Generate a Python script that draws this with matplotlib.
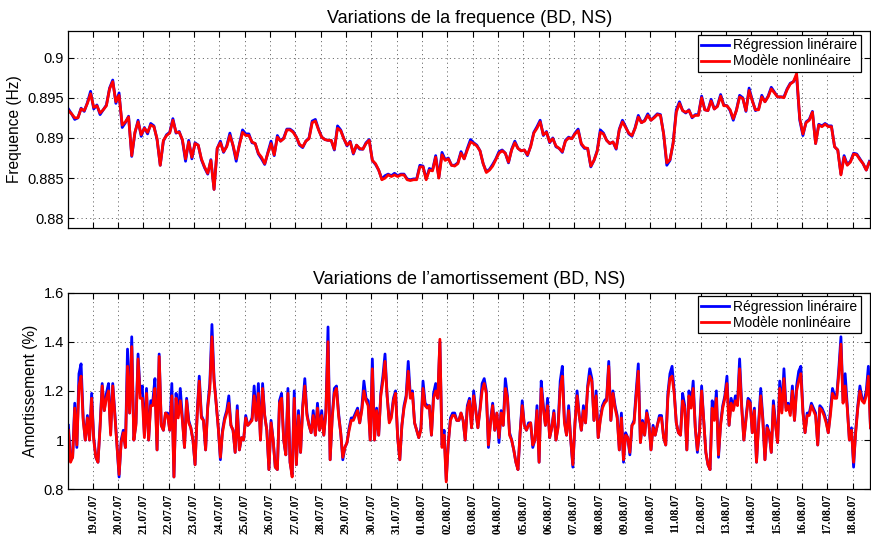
import pandas as pd
import matplotlib
matplotlib.use("Agg")
import matplotlib.pyplot as plt

plt.rcParams["font.family"] = ["Liberation Sans", "DejaVu Sans"]

# --- frequency (Hz), one value every 3 h from 18.07.2007 01:00 ---
FREQ_START, FREQ_STEP = "2007-07-18 01:00", "3h"
freq_lin = [
    0.8936, 0.8930, 0.8923, 0.8925, 0.8937, 0.8933, 0.8944, 0.8958,
    0.8936, 0.8941, 0.8929, 0.8935, 0.8941, 0.8962, 0.8972, 0.8943,
    0.8956, 0.8913, 0.8919, 0.8927, 0.8877, 0.8906, 0.8922, 0.8902,
    0.8913, 0.8905, 0.8918, 0.8915, 0.8898, 0.8866, 0.8896, 0.8904,
    0.8907, 0.8924, 0.8906, 0.8908, 0.8897, 0.8871, 0.8897, 0.8874,
    0.8894, 0.8891, 0.8873, 0.8863, 0.8855, 0.8873, 0.8836, 0.8887,
    0.8896, 0.8882, 0.8890, 0.8906, 0.8890, 0.8871, 0.8892, 0.8910,
    0.8905, 0.8905, 0.8894, 0.8893, 0.8880, 0.8874, 0.8867, 0.8882,
    0.8896, 0.8878, 0.8903, 0.8896, 0.8900, 0.8911, 0.8911, 0.8908,
    0.8901, 0.8891, 0.8888, 0.8896, 0.8900, 0.8921, 0.8923, 0.8911,
    0.8901, 0.8898, 0.8897, 0.8897, 0.8885, 0.8915, 0.8910, 0.8899,
    0.8890, 0.8896, 0.8880, 0.8891, 0.8886, 0.8886, 0.8894, 0.8898,
    0.8872, 0.8867, 0.8860, 0.8849, 0.8853, 0.8855, 0.8853, 0.8856,
    0.8853, 0.8855, 0.8855, 0.8849, 0.8848, 0.8849, 0.8849, 0.8866,
    0.8865, 0.8849, 0.8862, 0.8860, 0.8878, 0.8851, 0.8882, 0.8873,
    0.8875, 0.8866, 0.8866, 0.8869, 0.8883, 0.8874, 0.8887, 0.8898,
    0.8894, 0.8891, 0.8884, 0.8868, 0.8858, 0.8861, 0.8867, 0.8874,
    0.8883, 0.8885, 0.8881, 0.8869, 0.8886, 0.8896, 0.8887, 0.8884,
    0.8885, 0.8878, 0.8890, 0.8907, 0.8914, 0.8922, 0.8903, 0.8908,
    0.8894, 0.8900, 0.8889, 0.8887, 0.8882, 0.8897, 0.8901, 0.8899,
    0.8906, 0.8911, 0.8892, 0.8887, 0.8887, 0.8864, 0.8872, 0.8884,
    0.8910, 0.8906, 0.8897, 0.8893, 0.8895, 0.8886, 0.8911, 0.8922,
    0.8914, 0.8905, 0.8902, 0.8913, 0.8928, 0.8919, 0.8922, 0.8930,
    0.8922, 0.8926, 0.8930, 0.8929, 0.8905, 0.8866, 0.8872, 0.8894,
    0.8935, 0.8945, 0.8934, 0.8931, 0.8935, 0.8925, 0.8929, 0.8929,
    0.8952, 0.8935, 0.8934, 0.8948, 0.8936, 0.8940, 0.8954, 0.8941,
    0.8940, 0.8934, 0.8922, 0.8935, 0.8953, 0.8950, 0.8933, 0.8962,
    0.8947, 0.8934, 0.8936, 0.8953, 0.8945, 0.8952, 0.8963, 0.8957,
    0.8951, 0.8951, 0.8951, 0.8961, 0.8968, 0.8970, 0.8977, 0.8922,
    0.8903, 0.8920, 0.8923, 0.8933, 0.8893, 0.8917, 0.8915, 0.8918,
    0.8915, 0.8915, 0.8889, 0.8885, 0.8855, 0.8878, 0.8867, 0.8871,
    0.8881, 0.8880, 0.8874, 0.8868, 0.8860, 0.8871,
]
freq_nl = [
    0.8934, 0.8930, 0.8925, 0.8925, 0.8936, 0.8934, 0.8943, 0.8955,
    0.8938, 0.8940, 0.8931, 0.8935, 0.8940, 0.8961, 0.8970, 0.8945,
    0.8953, 0.8916, 0.8920, 0.8926, 0.8878, 0.8907, 0.8920, 0.8904,
    0.8912, 0.8907, 0.8916, 0.8914, 0.8899, 0.8866, 0.8897, 0.8903,
    0.8906, 0.8922, 0.8907, 0.8907, 0.8898, 0.8874, 0.8895, 0.8876,
    0.8893, 0.8891, 0.8874, 0.8864, 0.8856, 0.8872, 0.8836, 0.8887,
    0.8894, 0.8883, 0.8889, 0.8903, 0.8891, 0.8874, 0.8891, 0.8907,
    0.8903, 0.8903, 0.8895, 0.8893, 0.8881, 0.8876, 0.8868, 0.8881,
    0.8893, 0.8879, 0.8901, 0.8896, 0.8899, 0.8910, 0.8910, 0.8907,
    0.8901, 0.8892, 0.8889, 0.8896, 0.8899, 0.8919, 0.8921, 0.8910,
    0.8901, 0.8898, 0.8897, 0.8897, 0.8886, 0.8912, 0.8909, 0.8899,
    0.8891, 0.8895, 0.8881, 0.8891, 0.8887, 0.8886, 0.8893, 0.8897,
    0.8872, 0.8868, 0.8860, 0.8848, 0.8850, 0.8854, 0.8852, 0.8854,
    0.8852, 0.8854, 0.8854, 0.8848, 0.8847, 0.8848, 0.8848, 0.8864,
    0.8864, 0.8848, 0.8860, 0.8859, 0.8876, 0.8850, 0.8879, 0.8872,
    0.8874, 0.8866, 0.8865, 0.8868, 0.8881, 0.8874, 0.8885, 0.8895,
    0.8893, 0.8890, 0.8884, 0.8868, 0.8857, 0.8860, 0.8865, 0.8873,
    0.8881, 0.8884, 0.8881, 0.8870, 0.8885, 0.8894, 0.8887, 0.8884,
    0.8885, 0.8879, 0.8889, 0.8906, 0.8912, 0.8920, 0.8904, 0.8907,
    0.8895, 0.8899, 0.8890, 0.8887, 0.8883, 0.8896, 0.8900, 0.8899,
    0.8905, 0.8909, 0.8893, 0.8888, 0.8887, 0.8865, 0.8872, 0.8883,
    0.8907, 0.8905, 0.8897, 0.8893, 0.8895, 0.8887, 0.8910, 0.8920,
    0.8913, 0.8906, 0.8903, 0.8912, 0.8926, 0.8919, 0.8921, 0.8928,
    0.8922, 0.8925, 0.8929, 0.8928, 0.8905, 0.8869, 0.8873, 0.8893,
    0.8932, 0.8943, 0.8934, 0.8932, 0.8934, 0.8926, 0.8928, 0.8928,
    0.8950, 0.8935, 0.8934, 0.8946, 0.8936, 0.8939, 0.8952, 0.8940,
    0.8940, 0.8935, 0.8924, 0.8934, 0.8951, 0.8949, 0.8934, 0.8959,
    0.8946, 0.8935, 0.8935, 0.8951, 0.8945, 0.8951, 0.8961, 0.8956,
    0.8951, 0.8951, 0.8950, 0.8960, 0.8967, 0.8970, 0.8980, 0.8924,
    0.8905, 0.8919, 0.8922, 0.8932, 0.8893, 0.8916, 0.8914, 0.8917,
    0.8914, 0.8914, 0.8889, 0.8885, 0.8854, 0.8876, 0.8866, 0.8870,
    0.8880, 0.8879, 0.8873, 0.8868, 0.8860, 0.8870,
]

# --- damping (%), one value every 2 h from 18.07.2007 01:00 ---
DAMP_START, DAMP_STEP = "2007-07-18 01:00", "2h"
damp_lin = [
    1.06, 0.92, 0.93, 1.15, 0.97, 1.27, 1.31, 1.09, 1.00, 1.10, 1.00, 1.19,
    1.01, 0.93, 0.91, 1.06, 1.23, 1.12, 1.19, 1.23, 1.03, 1.23, 1.11, 0.98,
    0.85, 1.00, 1.04, 0.97, 1.37, 1.11, 1.42, 1.00, 1.07, 1.35, 1.19, 1.22,
    1.02, 1.21, 1.00, 1.16, 1.16, 1.25, 0.96, 1.35, 1.06, 1.04, 1.11, 1.11,
    1.04, 1.23, 0.85, 1.19, 1.10, 1.21, 1.09, 0.97, 1.17, 1.08, 1.05, 1.00,
    0.90, 1.11, 1.26, 1.10, 1.08, 0.96, 1.14, 1.23, 1.47, 1.25, 1.15, 1.05,
    0.92, 1.04, 1.09, 1.12, 1.18, 1.06, 1.04, 0.95, 1.14, 0.96, 1.01, 1.00,
    1.10, 1.06, 1.07, 1.09, 1.22, 1.08, 1.23, 1.00, 1.23, 1.10, 1.04, 0.88,
    1.08, 1.00, 0.89, 0.88, 1.16, 1.19, 1.00, 0.94, 1.21, 0.91, 0.86, 1.20,
    0.90, 1.12, 0.95, 1.14, 1.25, 1.11, 1.06, 1.03, 1.12, 1.02, 1.15, 1.04,
    1.12, 1.02, 1.12, 1.46, 0.92, 1.10, 1.21, 1.22, 1.11, 1.03, 0.92, 0.97,
    0.99, 1.05, 1.09, 1.09, 1.11, 1.13, 1.07, 1.13, 1.24, 1.17, 1.16, 1.00,
    1.33, 1.00, 1.13, 1.02, 1.19, 1.26, 1.35, 1.18, 1.08, 1.10, 1.17, 1.20,
    1.01, 0.92, 1.06, 1.14, 1.18, 1.32, 1.18, 1.20, 1.07, 1.04, 1.01, 1.05,
    1.24, 1.15, 1.14, 1.14, 1.02, 1.19, 1.23, 1.17, 1.40, 0.98, 1.04, 0.84,
    0.99, 1.09, 1.11, 1.11, 1.08, 1.08, 1.11, 1.08, 1.00, 1.14, 1.17, 1.05,
    1.20, 1.12, 1.05, 1.13, 1.23, 1.25, 1.20, 0.97, 1.08, 1.15, 1.04, 1.11,
    0.99, 1.12, 1.06, 1.25, 1.18, 1.03, 1.00, 0.96, 0.91, 0.88, 1.03, 1.16,
    1.06, 1.04, 1.07, 1.07, 0.97, 1.00, 1.14, 0.91, 1.24, 1.14, 1.06, 1.17,
    1.01, 1.05, 1.12, 1.00, 1.06, 1.24, 1.30, 1.08, 1.02, 1.14, 1.00, 0.89,
    1.07, 1.20, 1.10, 1.04, 1.14, 1.07, 1.22, 1.29, 1.25, 1.08, 1.20, 1.01,
    1.09, 1.14, 1.16, 1.17, 1.32, 1.08, 1.20, 1.14, 1.10, 0.96, 1.11, 0.91,
    1.03, 1.01, 0.94, 1.06, 1.08, 1.20, 1.31, 0.99, 1.08, 1.02, 1.12, 1.07,
    0.96, 1.06, 1.02, 1.06, 1.10, 1.10, 1.01, 0.98, 1.19, 1.27, 1.30, 1.20,
    1.07, 1.03, 1.02, 1.19, 1.14, 0.96, 1.20, 1.14, 1.24, 1.05, 0.95, 1.04,
    1.22, 1.08, 0.95, 0.90, 0.88, 1.16, 1.09, 1.20, 0.93, 1.07, 1.14, 1.18,
    1.26, 1.06, 1.17, 1.13, 1.18, 1.15, 1.33, 1.14, 1.00, 1.09, 1.17, 1.16,
    1.03, 1.13, 0.91, 1.07, 1.21, 1.09, 0.92, 1.06, 1.03, 0.95, 1.16, 1.07,
    0.99, 1.24, 1.12, 1.29, 1.13, 1.15, 1.11, 1.22, 1.08, 1.22, 1.28, 1.30,
    1.12, 1.03, 1.11, 1.11, 1.15, 1.13, 1.11, 0.98, 1.14, 1.13, 1.11, 1.08,
    1.03, 1.12, 1.21, 1.18, 1.18, 1.29, 1.42, 1.16, 1.27, 1.14, 1.00, 1.05,
    0.89, 1.04, 1.14, 1.22, 1.17, 1.16, 1.20, 1.30, 1.05,
]
damp_nl = [
    1.04, 0.91, 0.93, 1.13, 0.98, 1.22, 1.26, 1.08, 1.00, 1.09, 1.00, 1.17,
    1.00, 0.93, 0.91, 1.05, 1.22, 1.12, 1.17, 1.20, 1.02, 1.22, 1.10, 0.98,
    0.86, 0.99, 1.03, 0.97, 1.30, 1.11, 1.38, 1.00, 1.06, 1.33, 1.17, 1.17,
    1.01, 1.19, 1.00, 1.14, 1.14, 1.21, 0.96, 1.34, 1.06, 1.04, 1.11, 1.10,
    1.04, 1.18, 0.85, 1.17, 1.09, 1.16, 1.08, 0.97, 1.16, 1.07, 1.05, 1.00,
    0.90, 1.10, 1.24, 1.09, 1.08, 0.96, 1.13, 1.21, 1.42, 1.24, 1.15, 1.05,
    0.93, 1.03, 1.08, 1.11, 1.15, 1.06, 1.04, 0.95, 1.12, 0.96, 1.01, 1.00,
    1.09, 1.06, 1.07, 1.08, 1.18, 1.08, 1.19, 1.00, 1.21, 1.10, 1.04, 0.88,
    1.07, 1.00, 0.89, 0.88, 1.15, 1.17, 1.00, 0.94, 1.19, 0.91, 0.85, 1.17,
    0.90, 1.10, 0.95, 1.13, 1.22, 1.10, 1.06, 1.03, 1.10, 1.02, 1.13, 1.04,
    1.10, 1.02, 1.11, 1.40, 0.92, 1.09, 1.19, 1.21, 1.10, 1.03, 0.93, 0.97,
    0.99, 1.04, 1.08, 1.08, 1.10, 1.12, 1.07, 1.12, 1.20, 1.16, 1.14, 1.00,
    1.29, 1.00, 1.12, 1.02, 1.18, 1.24, 1.32, 1.18, 1.07, 1.09, 1.16, 1.19,
    1.01, 0.92, 1.06, 1.13, 1.17, 1.28, 1.17, 1.19, 1.07, 1.04, 1.01, 1.04,
    1.21, 1.14, 1.13, 1.14, 1.02, 1.17, 1.20, 1.17, 1.41, 0.97, 1.02, 0.83,
    0.99, 1.08, 1.10, 1.10, 1.08, 1.08, 1.11, 1.08, 1.00, 1.13, 1.16, 1.05,
    1.18, 1.12, 1.05, 1.12, 1.20, 1.23, 1.19, 0.98, 1.07, 1.14, 1.04, 1.11,
    1.01, 1.11, 1.06, 1.21, 1.17, 1.02, 1.00, 0.96, 0.91, 0.88, 1.03, 1.14,
    1.06, 1.04, 1.06, 1.07, 0.98, 1.00, 1.12, 0.91, 1.21, 1.13, 1.06, 1.14,
    1.01, 1.05, 1.11, 1.00, 1.05, 1.21, 1.26, 1.07, 1.02, 1.12, 1.00, 0.90,
    1.07, 1.18, 1.10, 1.04, 1.12, 1.07, 1.21, 1.26, 1.24, 1.08, 1.18, 1.01,
    1.08, 1.13, 1.15, 1.16, 1.30, 1.08, 1.19, 1.13, 1.09, 0.96, 1.09, 0.92,
    1.02, 1.01, 0.95, 1.06, 1.07, 1.18, 1.28, 0.99, 1.07, 1.02, 1.11, 1.07,
    0.96, 1.05, 1.02, 1.06, 1.09, 1.09, 1.01, 0.98, 1.17, 1.25, 1.26, 1.19,
    1.07, 1.03, 1.02, 1.16, 1.13, 0.96, 1.18, 1.13, 1.21, 1.05, 0.96, 1.03,
    1.20, 1.08, 0.95, 0.90, 0.88, 1.13, 1.08, 1.17, 0.94, 1.06, 1.13, 1.17,
    1.23, 1.06, 1.15, 1.12, 1.16, 1.14, 1.29, 1.13, 1.00, 1.08, 1.16, 1.15,
    1.03, 1.12, 0.91, 1.06, 1.18, 1.08, 0.92, 1.05, 1.03, 0.95, 1.14, 1.06,
    0.99, 1.21, 1.11, 1.25, 1.12, 1.14, 1.10, 1.20, 1.08, 1.20, 1.24, 1.27,
    1.11, 1.03, 1.10, 1.10, 1.14, 1.12, 1.10, 0.98, 1.13, 1.12, 1.10, 1.07,
    1.03, 1.10, 1.19, 1.17, 1.17, 1.27, 1.39, 1.15, 1.22, 1.13, 1.00, 1.04,
    0.91, 1.03, 1.13, 1.20, 1.16, 1.15, 1.18, 1.26, 1.05,
]

labels = ["Régression linéraire", "Modèle nonlinéaire"]
freq_ticks = [0.88, 0.885, 0.89, 0.895, 0.9]
damp_ticks = [0.8, 1.0, 1.2, 1.4, 1.6]

t_freq = pd.date_range(FREQ_START, periods=len(freq_nl), freq=FREQ_STEP)
t_damp = pd.date_range(DAMP_START, periods=len(damp_nl), freq=DAMP_STEP)
days = pd.date_range("2007-07-19", "2007-08-18", freq="D")
xlim = (pd.Timestamp("2007-07-18 00:53"), pd.Timestamp("2007-08-18 17:00"))

fig = plt.figure(figsize=(8.71, 5.41), dpi=100)
ax1 = fig.add_axes([0.0784, 0.5786, 0.921, 0.3641])
ax2 = fig.add_axes([0.0784, 0.0956, 0.921, 0.3637])

panels = [
    (ax1, t_freq, freq_lin, freq_nl, "Variations de la frequence (BD, NS)",
     "Frequence (Hz)", (0.8788, 0.9033), freq_ticks),
    (ax2, t_damp, damp_lin, damp_nl, "Variations de l’amortissement (BD, NS)",
     "Amortissement (%)", (0.8, 1.6), damp_ticks),
]
for ax, t, lin, nl, title, ylab, ylim, yt in panels:
    ax.plot(t, lin, color="#0000ff", lw=2.0, label=labels[0])
    ax.plot(t, nl, color="#ff0000", lw=2.0, label=labels[1])
    ax.set_xlim(*xlim)
    ax.set_ylim(*ylim)
    ax.set_yticks(yt)
    ax.set_yticklabels([f"{v:g}" for v in yt], fontsize=10.5)
    ax.set_xticks(days)
    ax.set_title(title, fontsize=13, pad=6)
    ax.set_ylabel(ylab, fontsize=11.2, labelpad=4)
    ax.grid(True, linestyle=(0, (1.4, 3.8)), color="0.35", linewidth=0.6)
    ax.tick_params(direction="in", top=True, right=True, length=4, width=0.8, pad=3)
    for sp in ax.spines.values():
        sp.set_linewidth(0.9)
    leg = ax.legend(loc="upper right", bbox_to_anchor=(0.988, 0.98), borderaxespad=0,
                    fancybox=False, edgecolor="black", framealpha=1, fontsize=10,
                    borderpad=0.25, labelspacing=0.15, handlelength=2.0, handletextpad=0.3)
    leg.get_frame().set_linewidth(0.9)

ax1.tick_params(labelbottom=False)
ax2.set_xticklabels([d.strftime("%d.%m.%y") for d in days], rotation=90,
                    fontfamily="Liberation Serif", fontweight="bold", fontsize=8.3)

fig.savefig("out.png", dpi=100)
